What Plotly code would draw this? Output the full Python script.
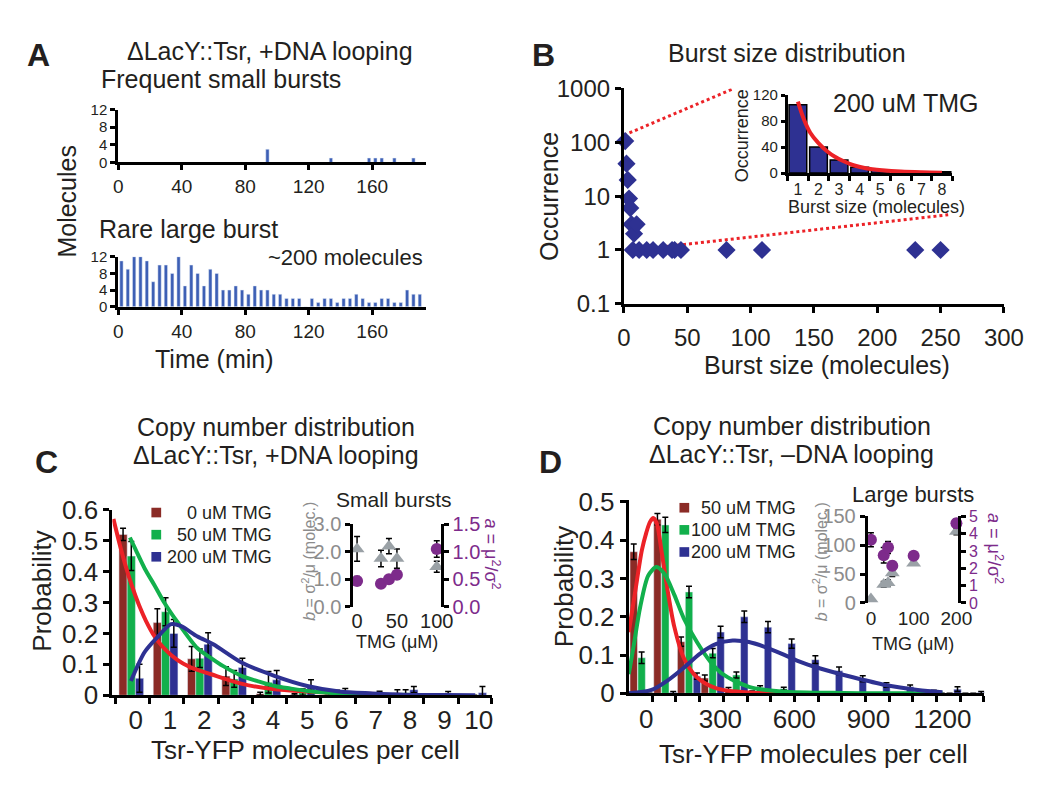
import plotly.graph_objects as go

FONT = "Liberation Sans, Arial, Helvetica, sans-serif"
INK = "#231f20"
W, H = 1050, 785

# ---------------- data ----------------
# Panel A: molecules produced per 4-min frame
a_time_min = list(range(2, 192, 4))
a_large_burst = [11, 9, 12, 12, 11, 6, 10, 10, 8, 12, 5, 10, 8, 5, 9, 8, 4, 4, 5, 4,
                 3, 5, 4, 4, 3, 3, 2, 2, 2, 0, 2, 1, 2, 2, 1, 2, 2, 3, 2, 1,
                 1, 2, 2, 1, 1, 4, 3, 3]
a_small_time = [94, 134, 158, 162, 166, 174, 186]
a_small_molec = [3, 1, 1, 1, 1, 1, 1]
a_xticks = [0, 40, 80, 120, 160]
a_yticks = [0, 4, 8, 12]

# Panel B: burst size distribution
b_burst_size = [1, 2, 3, 4, 5, 6, 8, 10, 7, 12, 18, 23, 31, 38, 40, 45, 81, 109, 230, 250]
b_occurrence = [105, 40, 20, 9, 6, 3, 2, 3, 1, 1, 1, 1, 1, 1, 1, 1, 1, 1, 1, 1]
b_inset_size = [1, 2, 3, 4, 5, 6, 7, 8]
b_inset_count = [105, 40, 20, 9, 5, 3, 1, 2]
b_fit_x = [1.0, 1.3, 1.6, 2.0, 2.4, 2.8, 3.2, 3.7, 4.3, 5.1, 6.0, 7.0, 8.0]
b_fit_y = [110, 82, 62, 46, 34, 25, 18.5, 12, 7.5, 4.4, 2.3, 1.2, 0.6]
b_zoom_upper_x = [0, 87]
b_zoom_upper_y = [135, 1000]
b_zoom_lower_x = [9, 256]
b_zoom_lower_y = [1, 4.5]
b_yticks = [0.1, 1, 10, 100, 1000]
b_yticktext = ["0.1", "1", "10", "100", "1000"]

# Panel C: copy number distribution, +DNA looping
c_molecules = [0, 1, 2, 3, 4, 5, 6, 7, 8, 9, 10]
c_p_0uM = [0.52, 0.235, 0.118, 0.062, 0.005, 0.002, 0.004, 0.003, 0.008, 0, 0]
c_e_0uM = [0.02, 0.045, 0.04, 0.03, 0.005, 0.003, 0.006, 0.005, 0.01, 0, 0]
c_p_50uM = [0.45, 0.27, 0.12, 0.053, 0.042, 0.01, 0.008, 0.003, 0.008, 0.002, 0]
c_e_50uM = [0.047, 0.045, 0.03, 0.027, 0.035, 0.01, 0.008, 0.004, 0.01, 0.003, 0]
c_p_200uM = [0.055, 0.2, 0.165, 0.09, 0.05, 0.028, 0.012, 0.006, 0.018, 0.005, 0.008]
c_e_200uM = [0.045, 0.045, 0.037, 0.03, 0.03, 0.022, 0.01, 0.007, 0.01, 0.007, 0.02]
c_fit0_x = [-0.65, -0.45, -0.3, -0.1, 0.1, 0.3, 0.55, 0.8, 1.2, 1.6, 2.2, 3.1, 4.0, 5.0, 6.0, 7.0]
c_fit0_y = [0.57, 0.48, 0.42, 0.35, 0.29, 0.24, 0.19, 0.155, 0.115, 0.09, 0.068, 0.037, 0.02, 0.012, 0.007, 0.004]
c_fit50_x = [-0.17, 0.0, 0.26, 0.55, 0.83, 1.22, 1.8, 2.2, 2.54, 3.1, 3.6, 4.06, 4.5, 5.0, 6.0, 7.0]
c_fit50_y = [0.51, 0.47, 0.41, 0.355, 0.30, 0.236, 0.152, 0.12, 0.095, 0.062, 0.044, 0.03, 0.022, 0.014, 0.006, 0.003]
c_fit200_x = [-0.14, 0.26, 0.65, 1.03, 1.31, 1.8, 2.26, 3.1, 4.06, 5.0, 5.94, 6.9, 7.8, 9.0, 9.9]
c_fit200_y = [0.046, 0.14, 0.19, 0.23, 0.224, 0.19, 0.165, 0.105, 0.062, 0.03, 0.012, 0.006, 0.002, 0.001, 0.0]
c_labels = ["0 uM TMG", "50 uM TMG", "200 uM TMG"]
c_tmg = [0, 30, 40, 50, 100]
c_b = [2.1, 1.75, 2.2, 1.75, 1.45]
c_b_err = [0.45, 0.3, 0.28, 0.35, 0.2]
c_a = [0.47, 0.42, 0.5, 0.58, 1.05]
c_a_err = [0.08, 0.05, 0.05, 0.08, 0.15]

# Panel D: copy number distribution, -DNA looping
d_bin_center = [-24, 72, 168, 264, 360, 456, 552, 648, 744, 840, 936, 1032, 1128, 1224, 1320]
d_p_50uM = [0.37, 0.455, 0.135, 0.04, 0.01, 0.003, 0, 0, 0, 0, 0, 0, 0, 0, 0]
d_e_50uM = [0.02, 0.015, 0.012, 0.008, 0.005, 0.003, 0, 0, 0, 0, 0, 0, 0, 0, 0]
d_p_100uM = [0.093, 0.44, 0.265, 0.105, 0.048, 0.015, 0.012, 0.002, 0.002, 0, 0, 0, 0, 0, 0]
d_e_100uM = [0.015, 0.02, 0.015, 0.012, 0.008, 0.005, 0.004, 0.002, 0.002, 0, 0, 0, 0, 0, 0]
d_p_200uM = [0, 0.002, 0.045, 0.16, 0.2, 0.173, 0.13, 0.088, 0.059, 0.038, 0.022, 0.017, 0.003, 0.011, 0.002]
d_e_200uM = [0, 0.003, 0.008, 0.015, 0.015, 0.015, 0.012, 0.01, 0.01, 0.008, 0.006, 0.005, 0.005, 0.006, 0.003]
d_fit50_x = [-71, -45, -18, 0, 15, 28, 42, 62, 87, 113, 152, 205, 284, 415, 600]
d_fit50_y = [0.16, 0.266, 0.374, 0.42, 0.448, 0.458, 0.445, 0.37, 0.266, 0.175, 0.092, 0.042, 0.013, 0.002, 0.0]
d_fit100_x = [-71, -51, -25, 8, 41, 74, 113, 152, 205, 258, 310, 416, 547, 800, 1200]
d_fit100_y = [0.05, 0.125, 0.225, 0.308, 0.33, 0.312, 0.258, 0.196, 0.134, 0.084, 0.05, 0.017, 0.005, 0.001, 0.0]
d_fit200_x = [-71, 21, 87, 152, 218, 284, 350, 416, 482, 547, 613, 705, 837, 968, 1100, 1200]
d_fit200_y = [0.0, 0.009, 0.034, 0.067, 0.104, 0.129, 0.138, 0.134, 0.121, 0.104, 0.085, 0.065, 0.042, 0.022, 0.009, 0.003]
d_xticks = [0, 300, 600, 900, 1200]
d_bin_edges = [-72, 24, 120, 216, 312, 408, 504, 600, 696, 792, 888, 984, 1080, 1176, 1272, 1368]
d_labels = ["50 uM TMG", "100 uM TMG", "200 uM TMG"]
d_tmg = [0, 30, 40, 50, 100, 200]
d_b = [7, 32, 35, 52, 69, 124]
d_b_err = [0, 5, 5, 6, 3, 6]
d_a = [3.65, 2.76, 3.2, 2.15, 2.72, 4.6]
d_a_err = [0.4, 0.45, 0.35, 0.25, 0.1, 0.25]

# ---------------- style ----------------
NAVY = "#2e3192"
ABLUE = "#3d5fb5"
BROWN = "#8b2b26"
GREEN = "#12b04c"
RED = "#ec2227"
GRAY = "#9aa1a6"
GRAYTXT = "#8c8c8c"
PURPLE = "#7d2b8b"


def dom_x(a, b):
    return [a / W, b / W]


def dom_y(top, bottom):
    return [1 - bottom / H, 1 - top / H]


def ax(**kw):
    base = dict(showline=True, linecolor="black", linewidth=3, ticks="outside",
                tickwidth=3, ticklen=6, tickcolor="black", showgrid=False,
                zeroline=False, fixedrange=True,
                tickfont=dict(family=FONT, size=19, color=INK))
    base.update(kw)
    return base


def ann(text, x, y, size, color=INK, xanchor="center", yanchor="middle", **kw):
    return dict(text=text, x=x / W, y=1 - y / H, xref="paper", yref="paper",
                showarrow=False, xanchor=xanchor, yanchor=yanchor,
                font=dict(family=FONT, size=size, color=color), **kw)


def swatch(cx, cy, col, half=5):
    return dict(type="rect", xref="paper", yref="paper",
                x0=(cx - half) / W, x1=(cx + half) / W,
                y0=1 - (cy + half) / H, y1=1 - (cy - half) / H,
                fillcolor=col, line=dict(width=0))


ERR = dict(type="data", color="black", thickness=1.5, width=3)
TF = lambda s, c=INK: dict(family=FONT, size=s, color=c)

fig = go.Figure()

# ----- Panel A -----
fig.add_trace(go.Bar(x=a_small_time, y=a_small_molec, width=2.1, marker_color=ABLUE,
                     xaxis="x", yaxis="y", showlegend=False))
fig.add_trace(go.Bar(x=a_time_min, y=a_large_burst, width=2.1, marker_color=ABLUE,
                     xaxis="x2", yaxis="y2", showlegend=False))

# ----- Panel B -----
fig.add_trace(go.Scatter(x=b_zoom_upper_x, y=b_zoom_upper_y, mode="lines",
                         line=dict(color=RED, width=3, dash="dot"),
                         xaxis="x3", yaxis="y3", showlegend=False, cliponaxis=False))
fig.add_trace(go.Scatter(x=b_zoom_lower_x, y=b_zoom_lower_y, mode="lines",
                         line=dict(color=RED, width=3, dash="dot"),
                         xaxis="x3", yaxis="y3", showlegend=False, cliponaxis=False))
fig.add_trace(go.Scatter(x=b_burst_size, y=b_occurrence, mode="markers",
                         marker=dict(symbol="diamond", size=14, color=NAVY),
                         xaxis="x3", yaxis="y3", showlegend=False, cliponaxis=False))
fig.add_trace(go.Bar(x=b_inset_size, y=b_inset_count, width=0.86,
                     marker=dict(color=NAVY, line=dict(color="black", width=1.5)),
                     xaxis="x4", yaxis="y4", showlegend=False))
fig.add_trace(go.Scatter(x=b_fit_x, y=b_fit_y, mode="lines",
                         line=dict(color=RED, width=4, shape="spline"),
                         xaxis="x4", yaxis="y4", showlegend=False, cliponaxis=False))

# ----- Panel C -----
C_COLS = [BROWN, GREEN, NAVY]
for vals, errs, col, name, off in [
    (c_p_0uM, c_e_0uM, BROWN, c_labels[0], -0.49),
    (c_p_50uM, c_e_50uM, GREEN, c_labels[1], -0.25),
    (c_p_200uM, c_e_200uM, NAVY, c_labels[2], -0.01),
]:
    fig.add_trace(go.Bar(x=c_molecules, y=vals, width=0.24, offset=off, name=name,
                         marker_color=col, error_y=dict(ERR, array=errs),
                         xaxis="x5", yaxis="y5", showlegend=False))
for fx, fy, col in [(c_fit0_x, c_fit0_y, RED), (c_fit50_x, c_fit50_y, GREEN),
                    (c_fit200_x, c_fit200_y, NAVY)]:
    fig.add_trace(go.Scatter(x=fx, y=fy, mode="lines",
                             line=dict(color=col, width=4, shape="spline", smoothing=0.8),
                             xaxis="x5", yaxis="y5", showlegend=False, cliponaxis=False))
fig.add_trace(go.Scatter(x=c_tmg, y=c_b, mode="markers",
                         marker=dict(symbol="triangle-up", size=13, color=GRAY),
                         error_y=dict(ERR, array=c_b_err),
                         xaxis="x6", yaxis="y6", showlegend=False, cliponaxis=False))
fig.add_trace(go.Scatter(x=c_tmg, y=c_a, mode="markers",
                         marker=dict(symbol="circle", size=12, color=PURPLE),
                         error_y=dict(ERR, array=c_a_err),
                         xaxis="x6", yaxis="y7", showlegend=False, cliponaxis=False))

# ----- Panel D -----
D_COLS = [BROWN, GREEN, NAVY]
for vals, errs, col, name, off in [
    (d_p_50uM, d_e_50uM, BROWN, d_labels[0], -42),
    (d_p_100uM, d_e_100uM, GREEN, d_labels[1], -10),
    (d_p_200uM, d_e_200uM, NAVY, d_labels[2], 22),
]:
    fig.add_trace(go.Bar(x=d_bin_center, y=vals, width=30, offset=off, name=name,
                         marker_color=col, error_y=dict(ERR, array=errs),
                         xaxis="x7", yaxis="y8", showlegend=False))
for fx, fy, col in [(d_fit50_x, d_fit50_y, RED), (d_fit100_x, d_fit100_y, GREEN),
                    (d_fit200_x, d_fit200_y, NAVY)]:
    fig.add_trace(go.Scatter(x=fx, y=fy, mode="lines",
                             line=dict(color=col, width=4, shape="spline", smoothing=0.8),
                             xaxis="x7", yaxis="y8", showlegend=False))
fig.add_trace(go.Scatter(x=d_tmg, y=d_b, mode="markers",
                         marker=dict(symbol="triangle-up", size=13, color=GRAY),
                         error_y=dict(ERR, array=d_b_err),
                         xaxis="x8", yaxis="y9", showlegend=False, cliponaxis=False))
fig.add_trace(go.Scatter(x=d_tmg, y=d_a, mode="markers",
                         marker=dict(symbol="circle", size=12, color=PURPLE),
                         error_y=dict(ERR, array=d_a_err),
                         xaxis="x8", yaxis="y10", showlegend=False, cliponaxis=False))

layout = dict(
    width=W, height=H, autosize=False,
    margin=dict(l=0, r=0, t=0, b=0, pad=0),
    paper_bgcolor="white", plot_bgcolor="rgba(0,0,0,0)",
    barmode="overlay", showlegend=False,
    font=dict(family=FONT, color=INK),
    # A
    xaxis=ax(domain=dom_x(106, 422), anchor="y", range=[0, 194], tickvals=a_xticks, ticklen=5),
    yaxis=ax(domain=dom_y(90, 145), anchor="x", range=[0, 12], tickvals=a_yticks, ticklen=5,
             tickfont=TF(15)),
    xaxis2=ax(domain=dom_x(106, 422), anchor="y2", range=[0, 194], tickvals=a_xticks, ticklen=5),
    yaxis2=ax(domain=dom_y(243, 295), anchor="x2", range=[0, 12], tickvals=a_yticks, ticklen=5,
              tickfont=TF(15)),
    # B
    xaxis3=ax(domain=dom_x(625, 1015), anchor="y3", range=[0, 300], dtick=50, tick0=0,
              tickfont=TF(24), ticklabelstandoff=4),
    yaxis3=ax(domain=dom_y(68, 292), anchor="x3", type="log", range=[-1, 3],
              tickvals=b_yticks, ticktext=b_yticktext, tickfont=TF(24)),
    xaxis4=ax(domain=dom_x(793, 962), anchor="y4", range=[0.5, 8.5], tickvals=b_inset_size,
              ticks="", ticklen=0, linewidth=2.5, tickfont=TF(16),
              minor=dict(tickvals=[0.5, 1.5, 2.5, 3.5, 4.5, 5.5, 6.5, 7.5, 8.5],
                         ticks="outside", ticklen=5, tickwidth=2.5, tickcolor="black")),
    yaxis4=ax(domain=dom_y(75, 156), anchor="x4", range=[0, 120], tickvals=[0, 40, 80, 120],
              linewidth=2.5, tickwidth=2.5, ticklen=4, tickfont=TF(15)),
    # C
    xaxis5=ax(domain=dom_x(100, 490), anchor="y5", range=[-0.68, 10.4], tickvals=c_molecules,
              ticks="", tickfont=TF(26),
              minor=dict(tickvals=[-0.6, 0.4, 1.4, 2.4, 3.4, 4.4, 5.4, 6.4, 7.4, 8.4, 9.4, 10.36],
                         ticks="outside", ticklen=6, tickwidth=3, tickcolor="black")),
    yaxis5=ax(domain=dom_y(506, 699), anchor="x5", range=[0, 0.6],
              tickvals=[0, 0.1, 0.2, 0.3, 0.4, 0.5, 0.6],
              ticktext=["0", "0.1", "0.2", "0.3", "0.4", "0.5", "0.6"], tickfont=TF(26)),
    xaxis6=ax(domain=dom_x(347, 437), anchor="y6", range=[-5, 105], tickvals=[0, 50, 100],
              showline=False, ticks="", tickfont=TF(20)),
    yaxis6=ax(domain=dom_y(521, 607), anchor="x6", range=[0, 3], tickvals=[0, 1, 2, 3],
              ticktext=["0.0", "1.0", "2.0", "3.0"], linewidth=2.5, tickwidth=2.5, ticklen=5,
              tickfont=TF(20, GRAYTXT)),
    yaxis7=ax(overlaying="y6", side="right", anchor="x6", range=[0, 1.5],
              tickvals=[0, 0.5, 1.0, 1.5], ticktext=["0.0", "0.5", "1.0", "1.5"],
              linewidth=2.5, tickwidth=2.5, ticklen=5, tickfont=TF(20, PURPLE)),
    # D
    xaxis7=ax(domain=dom_x(630, 995), anchor="y8", range=[-71, 1370], tickvals=d_xticks,
              ticks="", tickfont=TF(26),
              minor=dict(tickvals=d_bin_edges, ticks="outside", ticklen=6, tickwidth=3,
                         tickcolor="black")),
    yaxis8=ax(domain=dom_y(496, 697), anchor="x7", range=[0, 0.505],
              tickvals=[0, 0.1, 0.2, 0.3, 0.4, 0.5], ticktext=["0", "0.1", "0.2", "0.3", "0.4", "0.5"],
              tickfont=TF(26)),
    xaxis8=ax(domain=dom_x(875, 968), anchor="y9", range=[-8, 204], tickvals=[0, 100, 200],
              showline=False, ticks="", tickfont=TF(19), ticklabelstandoff=2),
    yaxis9=ax(domain=dom_y(513, 603), anchor="x8", range=[0, 150], tickvals=[0, 50, 100, 150],
              linewidth=2.5, tickwidth=2.5, ticklen=5, tickfont=TF(20, GRAYTXT)),
    yaxis10=ax(overlaying="y9", side="right", anchor="x8", range=[0, 5],
               tickvals=[0, 1, 2, 3, 4, 5], linewidth=2.5, tickwidth=2.5, ticklen=5,
               tickfont=TF(16, PURPLE)),
)
fig.update_layout(**layout)

annotations = [
    # Panel A
    ann("<b>A</b>", 24, 33, 32),
    ann("\u0394LacY::Tsr, +DNA looping", 262, 29, 25),
    ann("Frequent small bursts", 86, 58, 25, xanchor="left"),
    ann("Rare large burst", 84, 214, 25, xanchor="left"),
    ann("~200 molecules", 421, 244, 22, xanchor="right"),
    ann("Molecules", 53, 185, 25, textangle=-90),
    ann("Time (min)", 205, 349, 25),
    # Panel B
    ann("<b>B</b>", 542, 33, 32),
    ann("Burst size distribution", 792, 31, 25),
    ann("Occurrence", 548, 180, 25, textangle=-90),
    ann("Burst size (molecules)", 833, 356, 25),
    ann("200 uM TMG", 914, 83, 25),
    ann("Occurrence", 746, 117, 18, textangle=-90),
    ann("Burst size (molecules)", 884, 191, 18),
    # Panel C
    ann("<b>C</b>", 32, 456, 32),
    ann("Copy number distribution", 268, 420, 25),
    ann("\u0394LacY::Tsr, +DNA looping", 268, 449, 25),
    ann("Probability", 28, 591, 26, textangle=-90),
    ann("Tsr-YFP molecules per cell", 298, 756, 26),
    ann("Small bursts", 389, 495, 21),
    ann("<i>b</i> = \u03c3<sup>2</sup>/\u03bc (molec.)", 301, 560, 16, color=GRAYTXT, textangle=-90),
    ann("<i>a</i> = \u03bc<sup>2</sup>/\u03c3<sup>2</sup>", 489, 552, 18, color=PURPLE, textangle=90),
    ann("TMG (\u03bcM)", 392, 644, 18),
    # Panel D
    ann("<b>D</b>", 550, 456, 32),
    ann("Copy number distribution", 797, 419, 25),
    ann("\u0394LacY::Tsr, \u2013DNA looping", 797, 448, 25),
    ann("Probability", 563, 586, 26, textangle=-90),
    ann("Tsr-YFP molecules per cell", 820, 760, 26),
    ann("Large bursts", 922, 490, 22),
    ann("<i>b</i> = \u03c3<sup>2</sup>/\u03bc (molec.)", 826, 560, 16, color=GRAYTXT, textangle=-90),
    ann("<i>a</i> = \u03bc<sup>2</sup>/\u03c3<sup>2</sup>", 1006, 546, 18, color=PURPLE, textangle=90),
    ann("TMG (\u03bcM)", 922, 646, 18),
]
shapes = []
# legends (swatch + right-aligned label)
for i, (lab, col) in enumerate(zip(c_labels, C_COLS)):
    cy = 509 + 23 * i
    shapes.append(swatch(145, cy, col))
    annotations.append(ann(lab, 266, cy, 18, xanchor="right"))
for i, (lab, col) in enumerate(zip(d_labels, D_COLS)):
    cy = 504 + 23 * i
    shapes.append(swatch(687, cy, col))
    annotations.append(ann(lab, 804, cy, 18, xanchor="right"))

fig.update_layout(annotations=annotations, shapes=shapes)

fig.write_html("out.html")
